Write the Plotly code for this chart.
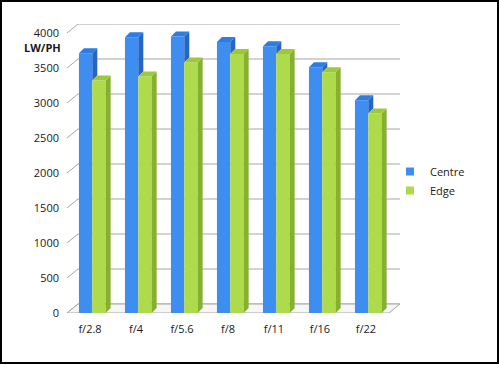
import plotly.graph_objects as go

# ---- data ----
categories = ["f/2.8", "f/4", "f/5.6", "f/8", "f/11", "f/16", "f/22"]
centre = [3710, 3940, 3950, 3870, 3810, 3510, 3040]
edge = [3320, 3380, 3580, 3700, 3700, 3440, 2850]
y_ticks = [0, 500, 1000, 1500, 2000, 2500, 3000, 3500, 4000]

# ---- style / geometry ----
FONT = "Open Sans"
C_FRONT, C_SIDE, C_TOP = "#3d8ef0", "#2565c6", "#2f7de2"
E_FRONT, E_SIDE, E_TOP = "#aedb4b", "#86b02f", "#9cc93b"
GRID = "#a6a6a6"

PLOT_L, PLOT_R, PLOT_T, PLOT_B = 67, 400, 24, 313
W, H = 500, 365
px_x = 46.0                 # pixels per category unit
px_y = 0.07                 # pixels per value unit
wall_dx = 11 / px_x         # depth offset of back wall (x units)
wall_dy = 9 / px_y          # depth offset of back wall (y units)
bar_dx = 5 / px_x           # bar depth (x units)
bar_dy = 5 / px_y           # bar depth (y units)
bw = 0.29
c_off, e_off = -0.24, 0.05

xs = list(range(len(categories)))
x_min, x_max = -0.5, len(categories) - 0.5 + wall_dx
y_max = y_ticks[-1] + wall_dy

fig = go.Figure()

# front faces
fig.add_trace(go.Bar(x=xs, y=centre, width=bw, offset=c_off, marker=dict(color=C_FRONT, line=dict(width=0)),
                     showlegend=False, name="Centre"))
fig.add_trace(go.Bar(x=xs, y=edge, width=bw, offset=e_off, marker=dict(color=E_FRONT, line=dict(width=0)),
                     showlegend=False, name="Edge"))


def poly_trace(polys, color):
    px, py = [], []
    for p in polys:
        for (a, b) in p:
            px.append(a)
            py.append(b)
        px.append(p[0][0]); py.append(p[0][1])
        px.append(None); py.append(None)
    return go.Scatter(x=px, y=py, mode="lines", fill="toself", fillcolor=color,
                      line=dict(width=0, color=color), hoverinfo="skip", showlegend=False)


c_side, c_top, e_side, e_top = [], [], [], []
for i, (vc, ve) in enumerate(zip(centre, edge)):
    cl, cr = i + c_off, i + c_off + bw
    el, er = i + e_off, i + e_off + bw
    lo = min(vc, ve)
    c_side.append([(cr, lo), (cr + bar_dx, lo + bar_dy), (cr + bar_dx, vc + bar_dy), (cr, vc)])
    c_top.append([(cl, vc), (cr, vc), (cr + bar_dx, vc + bar_dy), (cl + bar_dx, vc + bar_dy)])
    e_side.append([(er, 0), (er + bar_dx, bar_dy), (er + bar_dx, ve + bar_dy), (er, ve)])
    e_top.append([(el, ve), (er, ve), (er + bar_dx, ve + bar_dy), (el + bar_dx, ve + bar_dy)])

fig.add_trace(poly_trace(c_side, C_SIDE))
fig.add_trace(poly_trace(c_top, C_TOP))
fig.add_trace(poly_trace(e_side, E_SIDE))
fig.add_trace(poly_trace(e_top, E_TOP))

# legend entries
fig.add_trace(go.Scatter(x=[None], y=[None], mode="markers", name="Centre",
                         marker=dict(symbol="square", size=8, color=C_FRONT)))
fig.add_trace(go.Scatter(x=[None], y=[None], mode="markers", name="Edge",
                         marker=dict(symbol="square", size=8, color=E_FRONT)))

shapes = []
# back-wall gridlines and diagonal ticks
for v in y_ticks:
    shapes.append(dict(type="line", xref="x", yref="y", x0=-0.5 + wall_dx, x1=x_max,
                       y0=v + wall_dy, y1=v + wall_dy, line=dict(color=GRID, width=1), layer="below"))
    shapes.append(dict(type="line", xref="x", yref="y", x0=-0.5, x1=-0.5 + wall_dx,
                       y0=v, y1=v + wall_dy, line=dict(color=GRID, width=1), layer="below"))
# floor
x_front_r = len(categories) - 0.5
shapes.append(dict(type="path", xref="x", yref="y",
                   path=f"M {-0.5},0 L {x_front_r},0 L {x_front_r + wall_dx},{wall_dy} L {-0.5 + wall_dx},{wall_dy} Z",
                   line=dict(color=GRID, width=1), fillcolor="#f6f6f6", layer="below"))
# outer border
pw, ph = PLOT_R - PLOT_L, PLOT_B - PLOT_T
shapes.append(dict(type="rect", xref="paper", yref="paper",
                   x0=(1 - PLOT_L) / pw, x1=(W - 2 - PLOT_L) / pw,
                   y0=(PLOT_B - (H - 2)) / ph, y1=(PLOT_B - 1) / ph,
                   line=dict(color="black", width=2), fillcolor="rgba(0,0,0,0)"))

fig.update_layout(
    width=W, height=H,
    margin=dict(l=PLOT_L, r=W - PLOT_R, t=PLOT_T, b=H - PLOT_B, pad=0),
    paper_bgcolor="white", plot_bgcolor="white",
    font=dict(family=FONT, size=11, color="#1a1a1a"),
    barmode="overlay",
    shapes=shapes,
    showlegend=True,
    legend=dict(x=(390 - PLOT_L) / pw, y=(PLOT_B - 157) / ph, xanchor="left", yanchor="top",
                font=dict(family=FONT, size=11, color="#1a1a1a"), bgcolor="rgba(0,0,0,0)",
                itemwidth=30, tracegroupgap=0),
    annotations=[dict(text="<b>LW/PH</b>", xref="paper", yref="paper",
                      x=(42 - PLOT_L) / pw, y=(PLOT_B - 47) / ph, xanchor="center", yanchor="middle",
                      showarrow=False, font=dict(family=FONT, size=11, color="#1a1a1a"))],
)
fig.update_xaxes(range=[x_min, x_max], tickmode="array", tickvals=xs, ticktext=categories,
                 showgrid=False, zeroline=False, showline=False, ticks="", ticklabelstandoff=8,
                 fixedrange=True)
fig.update_yaxes(range=[0, y_max], tickmode="array", tickvals=y_ticks,
                 ticktext=[str(v) for v in y_ticks],
                 showgrid=False, zeroline=False, showline=False, ticks="", ticklabelstandoff=7,
                 fixedrange=True)

fig.write_html("out.html")
